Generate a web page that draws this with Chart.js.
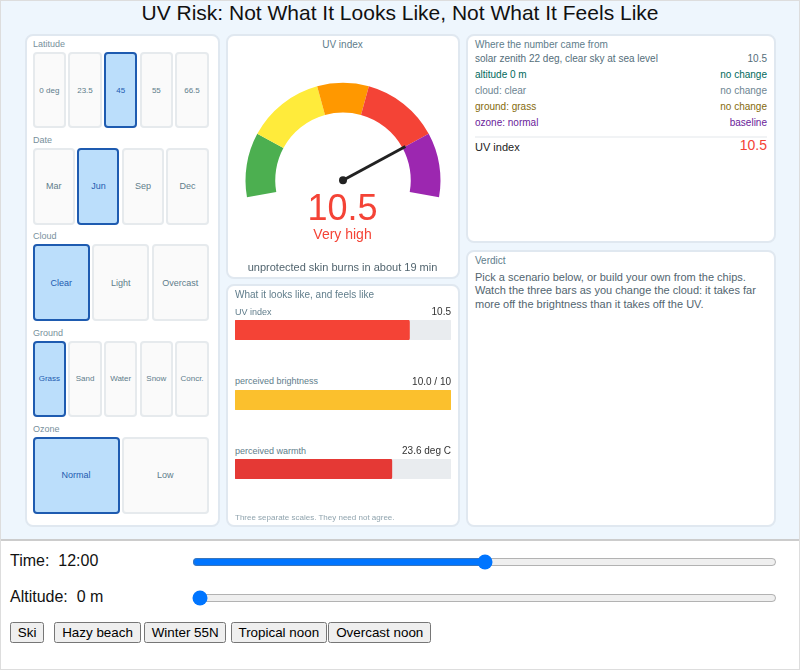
<!DOCTYPE html>
<html lang="en">
<head>
<meta charset="UTF-8">
<title>UV Risk</title>
<script src="https://cdn.jsdelivr.net/npm/chart.js"></script>
<style>
  html, body { margin: 0; padding: 0; background: #fff; font-family: "Liberation Sans", Arial, sans-serif; }
  #page { position: relative; width: 800px; height: 670px; box-sizing: border-box; border: 1px solid #ddd; overflow: hidden; }
  #top { position: absolute; left: 0; top: 0; width: 798px; height: 538px; background: #eef6fd; border-bottom: 2px solid #ccc; }
  h1 { position: absolute; left: 0; top: 0; width: 798px; margin: 0; text-align: center; font-size: 21px; font-weight: normal; line-height: 24px; color: #111; }
  .panel { position: absolute; box-sizing: border-box; background: #fff; border: 2px solid #e0e8f0; border-radius: 8px; }
  .t { position: absolute; white-space: nowrap; font-size: 10px; line-height: 12px; color: #607d8b; }
  .r { text-align: right; }
  .chips { position: absolute; left: 31.7px; width: 176px; height: 76.5px; display: flex; gap: 2.4px; }
  .chip { flex: 1; box-sizing: border-box; background: #fafafa; border: 2px solid #e6eaed; border-radius: 4px; display: flex; align-items: center; justify-content: center; color: #607d8b; }
  .chip.on { background: #bbdefb; border: 2px solid #1e5bb0; color: #1e5bb0; }
  canvas { position: absolute; }
  #controls { position: absolute; left: 0; top: 541px; width: 798px; height: 128px; }
  #controls label { position: absolute; left: 9px; font-size: 16px; line-height: 18px; color: #111; white-space: pre; }
  #controls input { position: absolute; left: 191px; width: 585px; height: 16px; margin: 0; }
  #btns { position: absolute; left: 9px; top: 80px; display: flex; }
  #btns button { font: 13.4px "Liberation Sans", Arial, sans-serif; height: 21px; padding: 0 5.75px; margin: 0; }
</style>
</head>
<body>
<div id="page">
  <div id="top">
    <h1>UV Risk: Not What It Looks Like, Not What It Feels Like</h1>
  </div>
  <div id="left"></div>
  <div class="panel" style="left:225px;top:33px;width:234px;height:245px"></div>
  <div class="panel" style="left:225px;top:283px;width:234px;height:243px"></div>
  <div class="panel" style="left:465px;top:33px;width:310px;height:209px"></div>
  <div class="panel" style="left:465px;top:249px;width:310px;height:277px"></div>

  <div class="t" style="left:224px;width:235px;top:38px;text-align:center">UV index</div>
  <canvas id="gauge" width="232" height="160"></canvas>
  <div class="t" style="left:224px;width:235px;top:190px;text-align:center;font-size:36px;line-height:34px;color:#f44336" id="uvText"></div>
  <div class="t" style="left:224px;width:235px;top:225px;text-align:center;font-size:14px;line-height:16px;color:#f44336" id="uvLevel"></div>
  <div class="t" style="left:224px;width:235px;top:260px;text-align:center;font-size:11px;line-height:13px;color:#52656f">unprotected skin burns in about 19 min</div>

  <div class="t" style="left:234px;top:288px">What it looks like, and feels like</div>
  <div id="bars"></div>
  <div class="t" style="left:234px;top:512px;font-size:8px;line-height:10px;color:#90a4ae">Three separate scales. They need not agree.</div>

  <div class="t" style="left:474px;top:38px">Where the number came from</div>
  <div id="rows"></div>
  <div style="position:absolute;left:474px;top:135px;width:292px;height:2px;background:#f1f3f5"></div>
  <div class="t" style="left:474px;top:140px;font-size:11px;line-height:13px;color:#222">UV index</div>
  <div class="t r" style="left:666px;width:100px;top:136px;font-size:14px;line-height:16px;color:#f44336" id="uvTotal"></div>

  <div class="t" style="left:474px;top:254px">Verdict</div>
  <div class="t" style="left:474px;top:270px;width:293px;white-space:normal;font-size:11px;line-height:13.4px;color:#52656f">Pick a scenario below, or build your own from the chips. Watch the three bars as you change the cloud: it takes far more off the brightness than it takes off the UV.</div>

  <div id="controls">
    <label style="top:10px">Time:  12:00</label>
    <input type="range" min="0" max="24" step="0.25" value="12" style="top:12px">
    <label style="top:46px">Altitude:  0 m</label>
    <input type="range" min="0" max="5000" step="100" value="0" style="top:48px">
    <div id="btns"></div>
  </div>
</div>

<script>
  // chip groups
  const chipGroups = ['Latitude', 'Date', 'Cloud', 'Ground', 'Ozone'];
  const latitudes = ['0 deg', '23.5', '45', '55', '66.5'];
  const dates = ['Mar', 'Jun', 'Sep', 'Dec'];
  const clouds = ['Clear', 'Light', 'Overcast'];
  const grounds = ['Grass', 'Sand', 'Water', 'Snow', 'Concr.'];
  const ozones = ['Normal', 'Low'];
  const selectedChips = ['45', 'Jun', 'Clear', 'Grass', 'Normal'];

  // gauge: widths of the UV bands, 0 to 13
  const bandWidths = [2.5, 3, 2, 3, 2.5];
  const bandColors = ['#4caf50', '#ffeb3b', '#ff9800', '#f44336', '#9c27b0'];
  const uvValue = 10.5;
  const uvLevel = 'Very high';

  // the three bars
  const barLabels = ['UV index', 'perceived brightness', 'perceived warmth'];
  const barValues = [10.5, 10, 23.6];
  const barMaxes = [13, 10, 32.5];
  const barTexts = ['10.5', '10.0 / 10', '23.6 deg C'];
  const barColors = ['#f44336', '#fbc02d', '#e53935'];

  // breakdown table
  const rowLabels = ['solar zenith 22 deg, clear sky at sea level', 'altitude 0 m', 'cloud: clear', 'ground: grass', 'ozone: normal'];
  const rowValues = ['10.5', 'no change', 'no change', 'no change', 'baseline'];
  const rowColors = ['#546e7a', '#00695c', '#6d8592', '#856a0c', '#6a1b9a'];

  const scenarios = ['Ski', 'Hazy beach', 'Winter 55N', 'Tropical noon', 'Overcast noon'];

  // left panel
  const left = document.getElementById('left');
  const panel = document.createElement('div');
  panel.className = 'panel';
  panel.style.cssText = 'left:24px;top:33px;width:195px;height:493px';
  left.appendChild(panel);
  [latitudes, dates, clouds, grounds, ozones].forEach((items, g) => {
    const top = 50.8 + g * 96.3;
    const lab = document.createElement('div');
    lab.className = 't';
    lab.style.cssText = 'left:32px;top:' + (top - 13) + 'px;font-size:9px;line-height:11px;color:#78909c';
    lab.textContent = chipGroups[g];
    left.appendChild(lab);
    const row = document.createElement('div');
    row.className = 'chips';
    row.style.top = top + 'px';
    row.style.fontSize = items.length === 5 ? '8px' : '9px';
    items.forEach(name => {
      const c = document.createElement('div');
      c.className = 'chip' + (name === selectedChips[g] ? ' on' : '');
      c.textContent = name;
      row.appendChild(c);
    });
    left.appendChild(row);
  });

  // texts
  document.getElementById('uvText').textContent = uvValue.toFixed(1);
  document.getElementById('uvLevel').textContent = uvLevel;
  document.getElementById('uvTotal').textContent = uvValue.toFixed(1);

  // table rows
  const rows = document.getElementById('rows');
  rowLabels.forEach((label, i) => {
    const y = 52 + i * 16;
    rows.insertAdjacentHTML('beforeend',
      '<div class="t" style="left:474px;top:' + y + 'px;color:' + rowColors[i] + '">' + label + '</div>' +
      '<div class="t r" style="left:666px;width:100px;top:' + y + 'px;color:' + rowColors[i] + '">' + rowValues[i] + '</div>');
  });

  // buttons
  const btnGaps = [0, 10.3, 3.3, 4.3, 1.6];
  const btns = document.getElementById('btns');
  scenarios.forEach((name, i) => {
    const b = document.createElement('button');
    b.textContent = name;
    b.style.marginLeft = btnGaps[i] + 'px';
    btns.appendChild(b);
  });

  // gauge
  const gaugeStart = -100;
  const gaugeSweep = 200;
  const needlePlugin = {
    id: 'needle',
    afterDatasetsDraw(chart) {
      const arc = chart.getDatasetMeta(0).data[0];
      const total = chart.getDatasetMeta(0).total;
      const a = (gaugeStart - 90 + uvValue / total * gaugeSweep) * Math.PI / 180;
      const c = chart.ctx;
      c.save();
      c.strokeStyle = '#222';
      c.fillStyle = '#222';
      c.lineWidth = 3;
      c.beginPath();
      c.moveTo(arc.x, arc.y);
      c.lineTo(arc.x + 71 * Math.cos(a), arc.y + 71 * Math.sin(a));
      c.stroke();
      c.beginPath();
      c.arc(arc.x, arc.y, 4, 0, Math.PI * 2);
      c.fill();
      c.restore();
    }
  };
  const gaugeCanvas = document.getElementById('gauge');
  gaugeCanvas.style.left = '226px';
  gaugeCanvas.style.top = '59px';
  new Chart(gaugeCanvas, {
    type: 'doughnut',
    data: { labels: ['Low', 'Moderate', 'High', 'Very high', 'Extreme'], datasets: [{ data: bandWidths, backgroundColor: bandColors, borderWidth: 0 }] },
    options: {
      responsive: false,
      animation: false,
      rotation: gaugeStart,
      circumference: gaugeSweep,
      radius: 97.5,
      cutout: '69.5%',
      plugins: { legend: { display: false }, tooltip: { enabled: false } }
    },
    plugins: [needlePlugin]
  });

  // bars
  const bars = document.getElementById('bars');
  const barTops = [320, 389.5, 459];
  barLabels.forEach((label, i) => {
    const y = barTops[i];
    bars.insertAdjacentHTML('beforeend',
      '<div class="t" style="left:234px;top:' + (y - 15.4) + 'px;font-size:9px">' + label + '</div>' +
      '<div class="t r" style="left:350px;width:100px;top:' + (y - 15) + 'px;color:#333">' + barTexts[i] + '</div>');
    const cv = document.createElement('canvas');
    cv.width = 216;
    cv.height = 20;
    cv.style.left = '234px';
    cv.style.top = y - 1 + 'px';
    bars.appendChild(cv);
    new Chart(cv, {
      type: 'bar',
      data: {
        labels: [label],
        datasets: [
          { data: [barValues[i]], backgroundColor: barColors[i], borderRadius: 2, borderSkipped: false, order: 1 },
          { data: [barMaxes[i]], backgroundColor: '#e9ecef', borderRadius: 2, borderSkipped: false, order: 2 }
        ]
      },
      options: {
        indexAxis: 'y',
        responsive: false,
        animation: false,
        layout: { padding: 0 },
        datasets: { bar: { grouped: false, categoryPercentage: 1, barPercentage: 1 } },
        scales: {
          x: { display: false, min: 0, max: barMaxes[i] },
          y: { display: false }
        },
        plugins: { legend: { display: false }, tooltip: { enabled: false } }
      }
    });
  });
</script>
</body>
</html>
